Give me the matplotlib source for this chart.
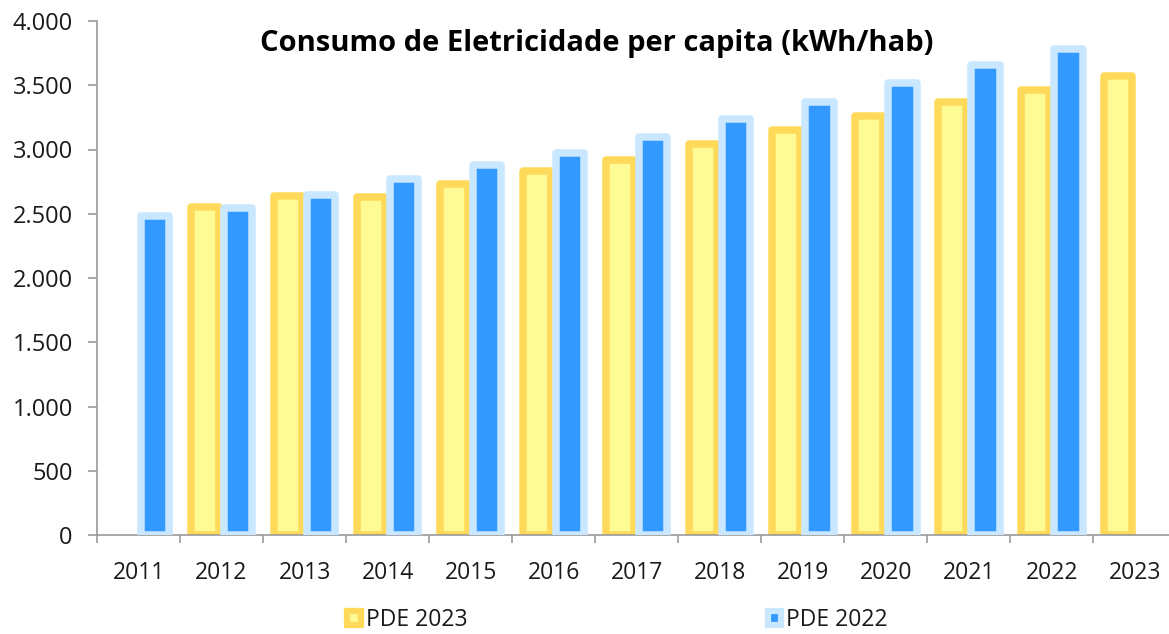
import matplotlib.pyplot as plt
import numpy as np

plt.rcParams['font.family'] = ['Open Sans', 'DejaVu Sans']

years = ['2011', '2012', '2013', '2014', '2015', '2016', '2017',
         '2018', '2019', '2020', '2021', '2022', '2023']
pde_2023 = [np.nan, 2550, 2640, 2630, 2730, 2830, 2920, 3045, 3155, 3260, 3370, 3465, 3570]
pde_2022 = [2480, 2545, 2645, 2770, 2880, 2975, 3100, 3235, 3370, 3515, 3660, 3780, np.nan]
y_ticks = [0, 500, 1000, 1500, 2000, 2500, 3000, 3500, 4000]
y_labels = ['0', '500', '1.000', '1.500', '2.000', '2.500', '3.000', '3.500', '4.000']

fig = plt.figure(figsize=(11.69, 6.34), dpi=100)
ax = fig.add_axes([97/1169, 1 - 535/634, 1 - 97/1169, (535 - 21)/634])

x = np.arange(len(years))
off = 0.2
w = 0.34

yel_fill, yel_edge = '#FFFB94', '#FFD95A'
blu_fill, blu_edge = '#3399FF', '#C9E7FF'

ax.bar(x - off, pde_2023, w, color=yel_fill, edgecolor=yel_edge, linewidth=5.4,
       joinstyle='round', label='PDE 2023', zorder=2)
ax.bar(x + off, pde_2022, w, color=blu_fill, edgecolor=blu_edge, linewidth=5.4,
       joinstyle='round', label='PDE 2022', zorder=3)

ax.set_ylim(0, 4000)
ax.set_xlim(-0.5, 12.41)
ax.set_yticks(y_ticks)
ax.set_yticklabels(y_labels)
ax.set_xticks(x)
ax.set_xticklabels(years)
ax.set_xticks(np.arange(-0.5, 12.5, 1), minor=True)

ax.tick_params(axis='y', labelsize=17, length=6.5, width=1.2, color='#999999', pad=11, labelcolor='#1a1a1a')
ax.tick_params(axis='x', which='major', labelsize=16.5, length=0, pad=19, labelcolor='#1a1a1a')
ax.tick_params(axis='x', which='minor', length=6, width=1.2, color='#999999')

for s in ['top', 'right']:
    ax.spines[s].set_visible(False)
for s in ['left', 'bottom']:
    ax.spines[s].set_color('#999999')
    ax.spines[s].set_linewidth(1.2)

fig.text(597/1169, 1 - 43/634, 'Consumo de Eletricidade per capita (kWh/hab)',
         ha='center', va='center', fontsize=21, fontweight='bold', color='black')

leg = fig.legend(loc='center left', bbox_to_anchor=(336/1169, 1 - 620/634), ncol=2,
                 frameon=False, fontsize=16.5, handlelength=0.6, handleheight=0.6,
                 handletextpad=0.2, columnspacing=13.1, borderpad=0)
for h in leg.legend_handles:
    h.set_linewidth(4.5)
for t in leg.get_texts():
    t.set_color('#1a1a1a')

plt.savefig('out.png', dpi=100)
